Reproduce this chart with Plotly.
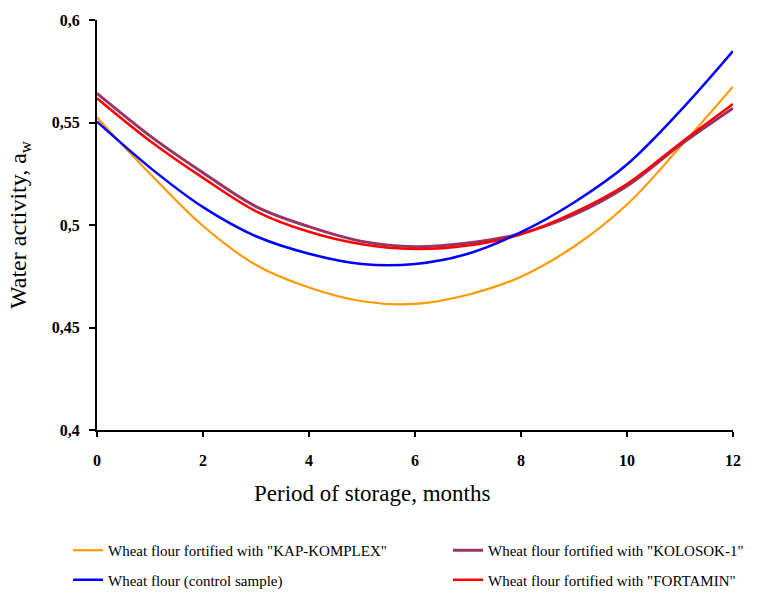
import plotly.graph_objects as go

months = [0, 1, 2, 3, 4, 5, 6, 7, 8, 9, 10, 11, 12]
kap_komplex = [0.5525, 0.5250, 0.4995, 0.4805, 0.4695, 0.4628, 0.4615, 0.4660, 0.4748, 0.4895, 0.5100, 0.5380, 0.5675]
control = [0.5504, 0.5280, 0.5087, 0.4945, 0.4860, 0.4810, 0.4810, 0.4860, 0.4965, 0.5110, 0.5295, 0.5555, 0.5848]
kolosok = [0.5642, 0.5435, 0.5255, 0.5090, 0.4992, 0.4920, 0.4894, 0.4912, 0.4958, 0.5050, 0.5190, 0.5390, 0.5570]
fortamin = [0.5618, 0.5410, 0.5230, 0.5067, 0.4967, 0.4906, 0.4883, 0.4900, 0.4955, 0.5060, 0.5200, 0.5398, 0.5590]

x_ticks = [0, 2, 4, 6, 8, 10, 12]
y_ticks = [0.4, 0.45, 0.5, 0.55, 0.6]
y_tick_text = ["0,4", "0,45", "0,5", "0,55", "0,6"]

names = {
    "kap": 'Wheat flour fortified with "KAP-KOMPLEX"',
    "kol": 'Wheat flour fortified with "KOLOSOK-1"',
    "ctl": 'Wheat flour (control sample)',
    "for": 'Wheat flour fortified with "FORTAMIN"',
}

serif = "Liberation Serif, Times New Roman, serif"

# plot area in pixels: x 97..733, y 20..430
PW, PH = 636, 410


def px_x(px):
    return (px - 97) / PW


def px_y(py):
    return (430 - py) / PH


fig = go.Figure()
fig.add_trace(go.Scatter(x=months, y=kap_komplex, mode="lines", name=names["kap"],
                         line=dict(color="#FF9900", width=2.2, shape="spline", smoothing=1.0),
                         legend="legend", legendgroup="a", legendrank=1))
fig.add_trace(go.Scatter(x=months, y=kolosok, mode="lines", name=names["kol"],
                         line=dict(color="#993366", width=3, shape="spline", smoothing=1.0),
                         legend="legend2", legendgroup="c", legendrank=1))
fig.add_trace(go.Scatter(x=months, y=fortamin, mode="lines", name=names["for"],
                         line=dict(color="#FF0000", width=2.5, shape="spline", smoothing=1.0),
                         legend="legend2", legendgroup="d", legendrank=2))
fig.add_trace(go.Scatter(x=months, y=control, mode="lines", name=names["ctl"],
                         line=dict(color="#0000FF", width=2.5, shape="spline", smoothing=1.0),
                         legend="legend", legendgroup="b", legendrank=2))

legend_common = dict(xanchor="left", yanchor="top", orientation="v", traceorder="grouped",
                     tracegroupgap=7, bgcolor="rgba(0,0,0,0)",
                     font=dict(family=serif, size=15, color="black"))

fig.update_layout(
    width=782, height=594,
    margin=dict(l=97, r=49, t=20, b=164, autoexpand=False),
    paper_bgcolor="white", plot_bgcolor="white",
    font=dict(family=serif, color="black"),
    xaxis=dict(range=[0, 12], tickvals=x_ticks, ticktext=[str(v) for v in x_ticks],
               showgrid=False, zeroline=False, showline=True, linecolor="black", linewidth=2,
               ticks="outside", ticklen=5, tickwidth=2, tickcolor="black", ticklabelstandoff=10,
               tickfont=dict(family=serif, size=16, color="black", weight="bold")),
    yaxis=dict(range=[0.4, 0.6], tickvals=y_ticks, ticktext=y_tick_text,
               showgrid=False, zeroline=False, showline=True, linecolor="black", linewidth=2,
               ticks="outside", ticklen=6, tickwidth=2, tickcolor="black", ticklabelstandoff=6,
               tickfont=dict(family=serif, size=16, color="black", weight="bold"),
               title=dict(text="Water activity, a<sub>w</sub>", standoff=18,
                          font=dict(family=serif, size=24, color="black"))),
    legend=dict(x=px_x(68), y=px_y(534), **legend_common),
    legend2=dict(x=px_x(448), y=px_y(534), **legend_common),
    annotations=[dict(text="Period of storage, months", xref="paper", yref="paper",
                      x=px_x(372), y=px_y(494), xanchor="center", yanchor="middle",
                      showarrow=False, font=dict(family=serif, size=23, color="black"))],
)

fig.write_html("out.html")
